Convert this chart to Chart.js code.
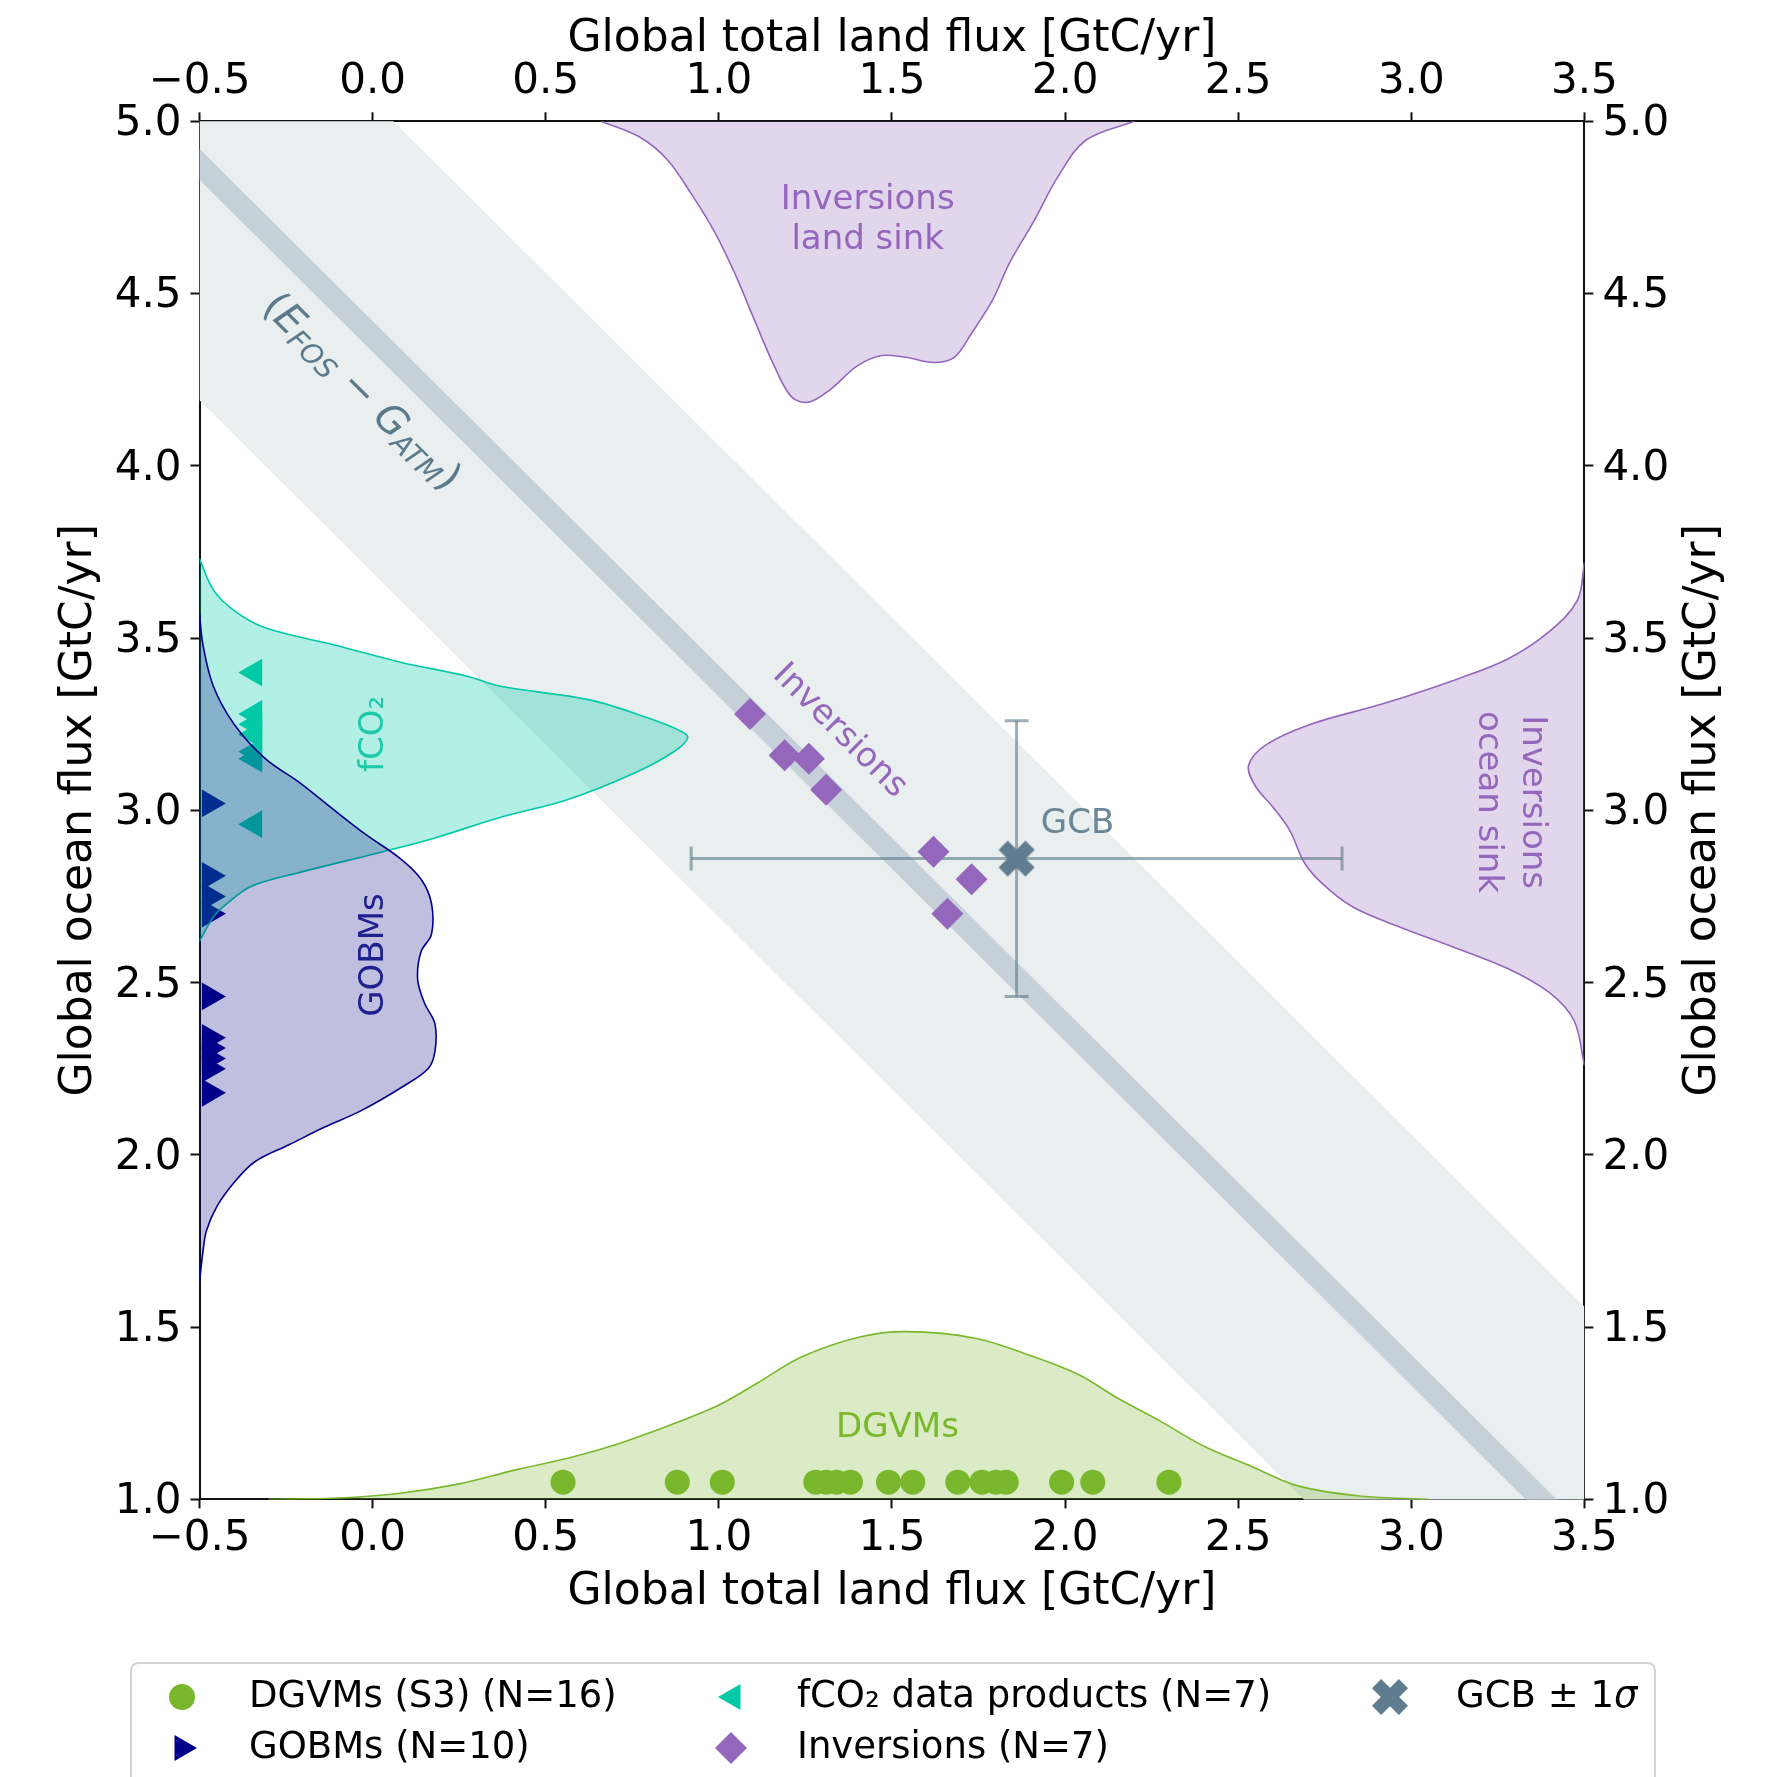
<!DOCTYPE html>
<html>
<head>
<meta charset="utf-8">
<script src="https://cdn.jsdelivr.net/npm/chart.js@4.4.1/dist/chart.umd.min.js"></script>
<style>
html,body{margin:0;padding:0;background:#fff;}
canvas{display:block;}
</style>
</head>
<body>
<canvas id="c" width="1768" height="1777"></canvas>
<script>
// ---------------- data ----------------
const landTicks  = [-0.5, 0.0, 0.5, 1.0, 1.5, 2.0, 2.5, 3.0, 3.5];
const oceanTicks = [1.0, 1.5, 2.0, 2.5, 3.0, 3.5, 4.0, 4.5, 5.0];

const dgvmLand  = [0.55, 0.88, 1.01, 1.28, 1.31, 1.34, 1.38, 1.49, 1.56, 1.69, 1.76, 1.80, 1.83, 1.99, 2.08, 2.30];
const gobmOcean = [3.02, 2.81, 2.75, 2.70, 2.46, 2.34, 2.31, 2.28, 2.25, 2.18];
const fco2Ocean = [3.40, 3.28, 3.25, 3.22, 3.17, 3.15, 2.96];
const invLand   = [1.09, 1.19, 1.26, 1.31, 1.62, 1.73, 1.66];
const invOcean  = [3.28, 3.16, 3.15, 3.06, 2.88, 2.80, 2.70];

const gcbLand = 1.86, gcbLandSigma = 0.94;
const gcbOcean = 2.86, gcbOceanSigma = 0.40;
const budgetTotal = 4.375, budgetSigma = 0.685, budgetLineHalf = 0.045;

// density outlines
const dgvmKdeLand   = [-0.30,-0.10,0.08,0.25,0.41,0.58,0.74,0.99,1.11,1.24,1.41,1.54,1.74,1.91,2.04,2.15,2.27,2.40,2.54,2.67,2.85,3.05];
const dgvmKdeOcean  = [1.000,1.004,1.018,1.045,1.085,1.124,1.172,1.269,1.337,1.414,1.472,1.487,1.468,1.414,1.362,1.295,1.230,1.155,1.095,1.040,1.010,1.000];

const invLandKdeLand  = [0.66,0.77,0.85,0.92,0.99,1.05,1.10,1.16,1.21,1.26,1.32,1.40,1.47,1.54,1.62,1.68,1.73,1.79,1.84,1.91,1.98,2.06,2.20];
const invLandKdeOcean = [5.00,4.955,4.89,4.79,4.675,4.55,4.43,4.29,4.20,4.185,4.22,4.29,4.32,4.315,4.30,4.315,4.385,4.48,4.59,4.71,4.84,4.945,5.00];

const invOceanKdeOcean = [3.72,3.61,3.52,3.44,3.38,3.31,3.25,3.19,3.13,3.07,3.01,2.94,2.85,2.79,2.72,2.66,2.60,2.54,2.47,2.39,2.26];
const invOceanKdeLand  = [3.50,3.48,3.40,3.28,3.13,2.92,2.71,2.58,2.53,2.55,2.60,2.65,2.69,2.74,2.83,2.97,3.13,3.28,3.40,3.47,3.50];

const fco2KdeOcean = [3.73,3.64,3.58,3.53,3.48,3.43,3.39,3.36,3.32,3.27,3.23,3.21,3.17,3.11,3.03,2.98,2.92,2.88,2.82,2.78,2.73,2.69,2.62];
const fco2KdeLand  = [-0.50,-0.46,-0.40,-0.31,-0.11,0.08,0.27,0.37,0.63,0.79,0.89,0.91,0.87,0.76,0.56,0.37,0.18,0.03,-0.21,-0.35,-0.42,-0.46,-0.50];

const gobmKdeOcean = [3.57,3.48,3.36,3.25,3.15,3.08,3.00,2.93,2.86,2.80,2.73,2.64,2.59,2.51,2.44,2.38,2.30,2.25,2.20,2.13,2.08,2.03,1.98,1.92,1.85,1.78,1.72,1.63];
const gobmKdeLand  = [-0.50,-0.49,-0.46,-0.40,-0.31,-0.21,-0.11,-0.02,0.08,0.14,0.17,0.17,0.14,0.13,0.15,0.18,0.18,0.16,0.09,-0.03,-0.14,-0.24,-0.34,-0.40,-0.45,-0.48,-0.49,-0.50];

// ---------------- styling ----------------
const COL = {
  green: '#79b82c', greenFill: 'rgba(122,183,45,0.28)',
  teal: '#00c9a7', tealFill: 'rgba(0,201,167,0.30)',
  navy: '#00008b', navyFill: 'rgba(0,0,128,0.25)',
  purple: '#9467bd', purpleFill: 'rgba(148,103,189,0.27)',
  slate: '#5f7d8e', errBar: 'rgba(96,125,139,0.62)',
  band: '#e9eeef', bandDark: '#c6d0d9'
};
const FONT = '"DejaVu Sans"';
const landMin = landTicks[0], landMax = landTicks[landTicks.length - 1];
const oceanMin = oceanTicks[0], oceanMax = oceanTicks[oceanTicks.length - 1];
const rugOffsetDgvm = 0.05, rugOffsetGobm = 0.03, rugOffsetFco2 = 0.158;

const zip = (xs, ys) => xs.map((x, i) => ({x, y: ys[i]}));
function bandPolygon(h) {
  return [
    {x: landMin, y: budgetTotal + h - landMin},
    {x: landMax, y: budgetTotal + h - landMax},
    {x: landMax, y: budgetTotal - h - landMax},
    {x: landMin, y: budgetTotal - h - landMin}
  ];
}

// marker drawing helpers
function drawMarker(g, kind, x, y, r, color) {
  g.save();
  g.fillStyle = color;
  g.beginPath();
  if (kind === 'circle') {
    g.arc(x, y, r, 0, Math.PI * 2);
    g.fill();
  } else if (kind === 'triRight' || kind === 'triLeft') {
    const s = kind === 'triRight' ? 1 : -1;
    g.moveTo(x + s * r, y);
    g.lineTo(x - s * r * 0.5, y - r * 0.866);
    g.lineTo(x - s * r * 0.5, y + r * 0.866);
    g.closePath(); g.fill();
  } else if (kind === 'diamond') {
    g.moveTo(x, y - r); g.lineTo(x + r, y); g.lineTo(x, y + r); g.lineTo(x - r, y);
    g.closePath(); g.fill();
  } else if (kind === 'X') {
    g.translate(x, y);
    const L = r, a = r * 0.34;
    for (const ang of [Math.PI / 4, -Math.PI / 4]) {
      g.save(); g.rotate(ang); g.fillRect(-L, -a, 2 * L, 2 * a); g.restore();
    }
  }
  g.restore();
}
function markerCanvas(kind, r, color) {
  const c = document.createElement('canvas');
  c.width = c.height = Math.ceil(r * 2 + 6);
  drawMarker(c.getContext('2d'), kind, c.width / 2, c.height / 2, r, color);
  return c;
}
const xMarker = markerCanvas('X', 19, COL.slate);

const kdeStyle = (color, fillColor, order) => ({
  showLine: true, fill: 'shape', backgroundColor: fillColor, borderColor: color,
  borderWidth: 1.6, pointRadius: 0, tension: 0.35, order
});
const markerStyle = (style, r, color, rot, order) => ({
  showLine: false, pointStyle: style, pointRadius: r, pointHoverRadius: r,
  pointRotation: rot, pointBackgroundColor: color, pointBorderColor: color,
  pointBorderWidth: 0, order, clip: false
});

const datasets = [
  {label: 'band', data: bandPolygon(budgetSigma), showLine: true, fill: 'shape', backgroundColor: COL.band, borderColor: 'transparent', borderWidth: 0, pointRadius: 0, order: 100},
  {label: 'bandLine', data: bandPolygon(budgetLineHalf), showLine: true, fill: 'shape', backgroundColor: COL.bandDark, borderColor: 'transparent', borderWidth: 0, pointRadius: 0, order: 99},
  Object.assign({label: 'dgvmKde', data: zip(dgvmKdeLand, dgvmKdeOcean)}, kdeStyle(COL.green, COL.greenFill, 90)),
  Object.assign({label: 'invLandKde', data: zip(invLandKdeLand, invLandKdeOcean)}, kdeStyle(COL.purple, COL.purpleFill, 89)),
  Object.assign({label: 'invOceanKde', data: zip(invOceanKdeLand, invOceanKdeOcean)}, kdeStyle(COL.purple, COL.purpleFill, 88)),
  Object.assign({label: `GOBMs (N=${gobmOcean.length})`, data: gobmOcean.map(y => ({x: landMin + rugOffsetGobm, y}))}, markerStyle('triangle', 16, COL.navy, 90, 86)),
  Object.assign({label: `fCO\u2082 data products (N=${fco2Ocean.length})`, data: fco2Ocean.map(y => ({x: landMin + rugOffsetFco2, y}))}, markerStyle('triangle', 16, COL.teal, -90, 85)),
  Object.assign({label: 'fco2Kde', data: zip(fco2KdeLand, fco2KdeOcean)}, kdeStyle(COL.teal, COL.tealFill, 83)),
  Object.assign({label: 'gobmKde', data: zip(gobmKdeLand, gobmKdeOcean)}, kdeStyle(COL.navy, COL.navyFill, 82)),
  {label: 'gcbErrX', data: [{x: gcbLand - gcbLandSigma, y: gcbOcean}, {x: gcbLand + gcbLandSigma, y: gcbOcean}],
   showLine: true, borderColor: COL.errBar, borderWidth: 3, pointStyle: 'line', pointRadius: 12, pointRotation: 90,
   pointBorderColor: COL.errBar, pointBorderWidth: 3, order: 70},
  {label: 'gcbErrY', data: [{x: gcbLand, y: gcbOcean - gcbOceanSigma}, {x: gcbLand, y: gcbOcean + gcbOceanSigma}],
   showLine: true, borderColor: COL.errBar, borderWidth: 3, pointStyle: 'line', pointRadius: 12, pointRotation: 0,
   pointBorderColor: COL.errBar, pointBorderWidth: 3, order: 70},
  Object.assign({label: `DGVMs (S3) (N=${dgvmLand.length})`, data: dgvmLand.map(x => ({x, y: oceanMin + rugOffsetDgvm}))}, markerStyle('circle', 12.5, COL.green, 0, 60)),
  Object.assign({label: `Inversions (N=${invLand.length})`, data: zip(invLand, invOcean)}, markerStyle('rectRot', 16, COL.purple, 0, 59)),
  Object.assign({label: 'GCB \u00b1 1\u03c3', data: [{x: gcbLand, y: gcbOcean}]}, markerStyle(xMarker, 18, COL.slate, 0, 50))
];

// ---------------- annotation + legend plugins ----------------
function drawLines(ctx, lines, x, y, rot, color, size, lh) {
  ctx.save();
  ctx.translate(x, y); ctx.rotate(rot);
  ctx.font = `${size}px ${FONT}`; ctx.fillStyle = color;
  ctx.textAlign = 'center'; ctx.textBaseline = 'middle';
  lines.forEach((t, i) => ctx.fillText(t, 0, (i - (lines.length - 1) / 2) * lh));
  ctx.restore();
}

const annotations = {
  id: 'annotations',
  afterDatasetsDraw(chart) {
    const ctx = chart.ctx, xs = chart.scales.x, ys = chart.scales.y;
    const px = v => xs.getPixelForValue(v), py = v => ys.getPixelForValue(v);
    const diag = Math.atan2(py(0) - py(1), px(1) - px(0));
    ctx.save();
    ctx.beginPath();
    ctx.rect(chart.chartArea.left, chart.chartArea.top, chart.chartArea.right - chart.chartArea.left, chart.chartArea.bottom - chart.chartArea.top);
    ctx.clip();
    drawLines(ctx, ['Inversions', 'land sink'], px(1.43), py(4.713), 0, COL.purple, 34, 40);
    drawLines(ctx, ['Inversions', 'ocean sink'], px(3.286), py(3.024), Math.PI / 2, COL.purple, 34, 44);
    drawLines(ctx, ['Inversions'], px(1.349), py(3.23), diag, COL.purple, 34, 40);
    drawLines(ctx, ['fCO\u2082'], px(0.004), py(3.222), -Math.PI / 2, '#1cc9a9', 34, 40);
    drawLines(ctx, ['GOBMs'], px(0.004), py(2.58), -Math.PI / 2, '#20208f', 34, 40);
    drawLines(ctx, ['DGVMs'], px(1.516), py(1.207), 0, COL.green, 34, 40);
    drawLines(ctx, ['GCB'], px(2.036), py(2.96), 0, '#6a8797', 34, 40);

    // (E_FOS - G_ATM) label along the budget line
    const parts = [
      {t: '(', sub: false, it: false}, {t: 'E', sub: false, it: true}, {t: 'FOS', sub: true, it: true},
      {t: ' \u2212 ', sub: false, it: false}, {t: 'G', sub: false, it: true}, {t: 'ATM', sub: true, it: true},
      {t: ')', sub: false, it: false}
    ];
    const big = 40, small = 28;
    const fontOf = p => `${p.it ? 'italic ' : ''}${p.sub ? small : big}px ${FONT}`;
    let total = 0;
    parts.forEach(p => { ctx.font = fontOf(p); p.w = ctx.measureText(p.t).width; total += p.w; });
    ctx.save();
    ctx.translate(px(-0.035), py(4.211)); ctx.rotate(diag);
    ctx.fillStyle = '#5b7b8c'; ctx.textBaseline = 'middle'; ctx.textAlign = 'left';
    let cx = -total / 2;
    parts.forEach(p => { ctx.font = fontOf(p); ctx.fillText(p.t, cx, p.sub ? 9 : 0); cx += p.w; });
    ctx.restore();
    ctx.restore();
  },
  afterDraw(chart) {
    const ctx = chart.ctx;
    // right axis title (reads bottom-to-top like the left one)
    const y2 = chart.scales.y2;
    drawLines(ctx, ['Global ocean flux [GtC/yr]'], y2.right - 64, (chart.chartArea.top + chart.chartArea.bottom) / 2, -Math.PI / 2, '#000', 44, 50);

    // legend box
    ctx.save();
    const bx = 131, by = 1663, bw = 1524, bh = 180, rad = 8;
    ctx.beginPath();
    ctx.moveTo(bx + rad, by); ctx.lineTo(bx + bw - rad, by); ctx.quadraticCurveTo(bx + bw, by, bx + bw, by + rad);
    ctx.lineTo(bx + bw, by + bh); ctx.lineTo(bx, by + bh); ctx.lineTo(bx, by + rad); ctx.quadraticCurveTo(bx, by, bx + rad, by);
    ctx.closePath();
    ctx.fillStyle = 'rgba(255,255,255,0.85)'; ctx.fill();
    ctx.strokeStyle = '#d4d4d4'; ctx.lineWidth = 2; ctx.stroke();

    const ds = chart.data.datasets;
    const find = lbl => ds.find(d => d.label.startsWith(lbl));
    const entries = [
      {d: find('DGVMs'), kind: 'circle', r: 13, color: COL.green, mx: 182, tx: 249, y: 1697},
      {d: find('GOBMs'), kind: 'triRight', r: 15, color: COL.navy, mx: 182, tx: 249, y: 1748},
      {d: find('fCO'), kind: 'triLeft', r: 15, color: COL.teal, mx: 733, tx: 797, y: 1697},
      {d: find('Inversions'), kind: 'diamond', r: 16, color: COL.purple, mx: 731, tx: 797, y: 1748},
      {d: find('GCB'), kind: 'X', r: 19, color: COL.slate, mx: 1390, tx: 1456, y: 1697}
    ];
    ctx.textBaseline = 'middle'; ctx.textAlign = 'left'; ctx.fillStyle = '#000';
    entries.forEach(e => {
      drawMarker(ctx, e.kind, e.mx, e.y, e.r, e.color);
      let label = e.d.label;
      ctx.fillStyle = '#000';
      ctx.font = `37px ${FONT}`;
      if (label.endsWith('\u03c3')) {
        const head = label.slice(0, -1);
        ctx.fillText(head, e.tx, e.y);
        const w = ctx.measureText(head).width;
        ctx.font = `italic 37px ${FONT}`;
        ctx.fillText('\u03c3', e.tx + w, e.y);
      } else {
        ctx.fillText(label, e.tx, e.y);
      }
    });
    ctx.restore();
  }
};

// ---------------- scales ----------------
const fmt = v => v.toFixed(1).replace('-', '\u2212');
const gridOpts = {drawOnChartArea: false, drawTicks: true, tickLength: 9, tickWidth: 2, tickColor: '#111'};
const borderOpts = {display: true, color: '#111', width: 2};
const tickFont = {family: FONT, size: 42};
const titleFont = {family: FONT, size: 44};

const scales = {
  x: {
    type: 'linear', position: 'bottom', min: landMin, max: landMax,
    afterBuildTicks: s => { s.ticks = landTicks.map(v => ({value: v})); },
    afterFit: s => { s.height = 120.6; },
    ticks: {font: tickFont, color: '#000', padding: 5, maxRotation: 0, autoSkip: false, callback: v => fmt(v)},
    grid: gridOpts, border: borderOpts,
    title: {display: true, text: 'Global total land flux [GtC/yr]', font: titleFont, color: '#000', padding: {top: 0, bottom: 1.5}}
  },
  x2: {
    type: 'linear', position: 'top', min: landMin, max: landMax,
    afterBuildTicks: s => { s.ticks = landTicks.map(v => ({value: v})); },
    afterFit: s => { s.height = 121.3; },
    ticks: {font: tickFont, color: '#000', padding: 5, maxRotation: 0, autoSkip: false, callback: v => fmt(v)},
    grid: gridOpts, border: borderOpts,
    title: {display: true, text: 'Global total land flux [GtC/yr]', font: titleFont, color: '#000', padding: {top: 13.5, bottom: 0}}
  },
  y: {
    type: 'linear', position: 'left', min: oceanMin, max: oceanMax,
    afterBuildTicks: s => { s.ticks = oceanTicks.map(v => ({value: v})); },
    afterFit: s => { s.width = 199.5; },
    ticks: {font: tickFont, color: '#000', padding: 9, autoSkip: false, labelOffset: 3, callback: v => fmt(v)},
    grid: gridOpts, border: borderOpts,
    title: {display: true, text: 'Global ocean flux [GtC/yr]', font: titleFont, color: '#000', padding: {top: 53.5, bottom: 0}}
  },
  y2: {
    type: 'linear', position: 'right', min: oceanMin, max: oceanMax,
    afterBuildTicks: s => { s.ticks = oceanTicks.map(v => ({value: v})); },
    afterFit: s => { s.width = 183.6; },
    ticks: {font: tickFont, color: '#000', padding: 9, autoSkip: false, labelOffset: 3, callback: v => fmt(v)},
    grid: gridOpts, border: borderOpts,
    title: {display: false}
  }
};

Chart.defaults.font.family = FONT;
new Chart(document.getElementById('c'), {
  type: 'line',
  data: {datasets},
  options: {
    responsive: false, animation: false, devicePixelRatio: 1, events: [],
    layout: {padding: {left: 0, right: 0, top: 0, bottom: 157}},
    scales,
    plugins: {legend: {display: false}, tooltip: {enabled: false}}
  },
  plugins: [annotations]
});
</script>
</body>
</html>
